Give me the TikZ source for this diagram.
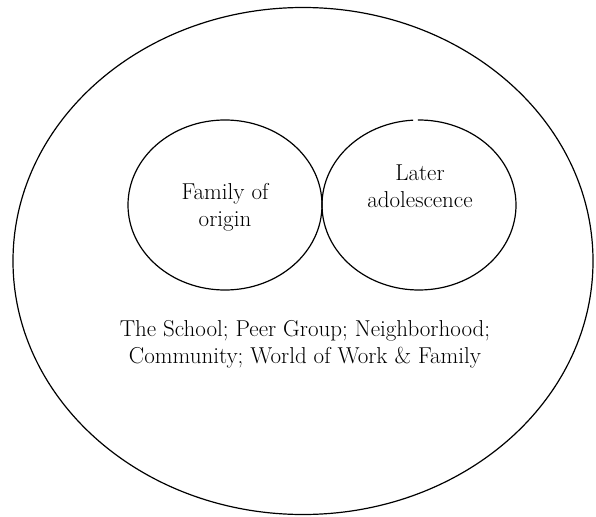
\documentclass[tikz,border=0pt]{standalone}
\usetikzlibrary{shapes.geometric}
\begin{document}
\begin{tikzpicture}[x=1pt,y=-1pt,
  ring/.style={draw=black,line width=1.2pt},
  label/.style={align=center,font=\fontsize{23}{27}\selectfont,inner sep=0pt}]
\useasboundingbox (0,0) rectangle (596,516);
% outer setting: the wider environment
\node[ring,ellipse,minimum width=580pt,minimum height=507pt,inner sep=0pt] (outer) at (303,261) {};
% family of origin
\node[ring,ellipse,minimum width=194pt,minimum height=170pt,inner sep=0pt] (family) at (225,205) {};
% later adolescence, drawn as an arc with a small break at the top
\coordinate (later) at (419,205);
\draw[ring] (later) ++(93.5:97pt and 85pt) arc[start angle=93.5,end angle=450.6,x radius=97pt,y radius=85pt];
\node[label] (familytext) at (225,207) {Family of\\origin};
\node[label] (latertext) at (420,186) {Later\\adolescence};
\node[label] (context) at (305,344) {The School; Peer Group; Neighborhood;\\Community; World of Work \& Family};
\end{tikzpicture}
\end{document}
